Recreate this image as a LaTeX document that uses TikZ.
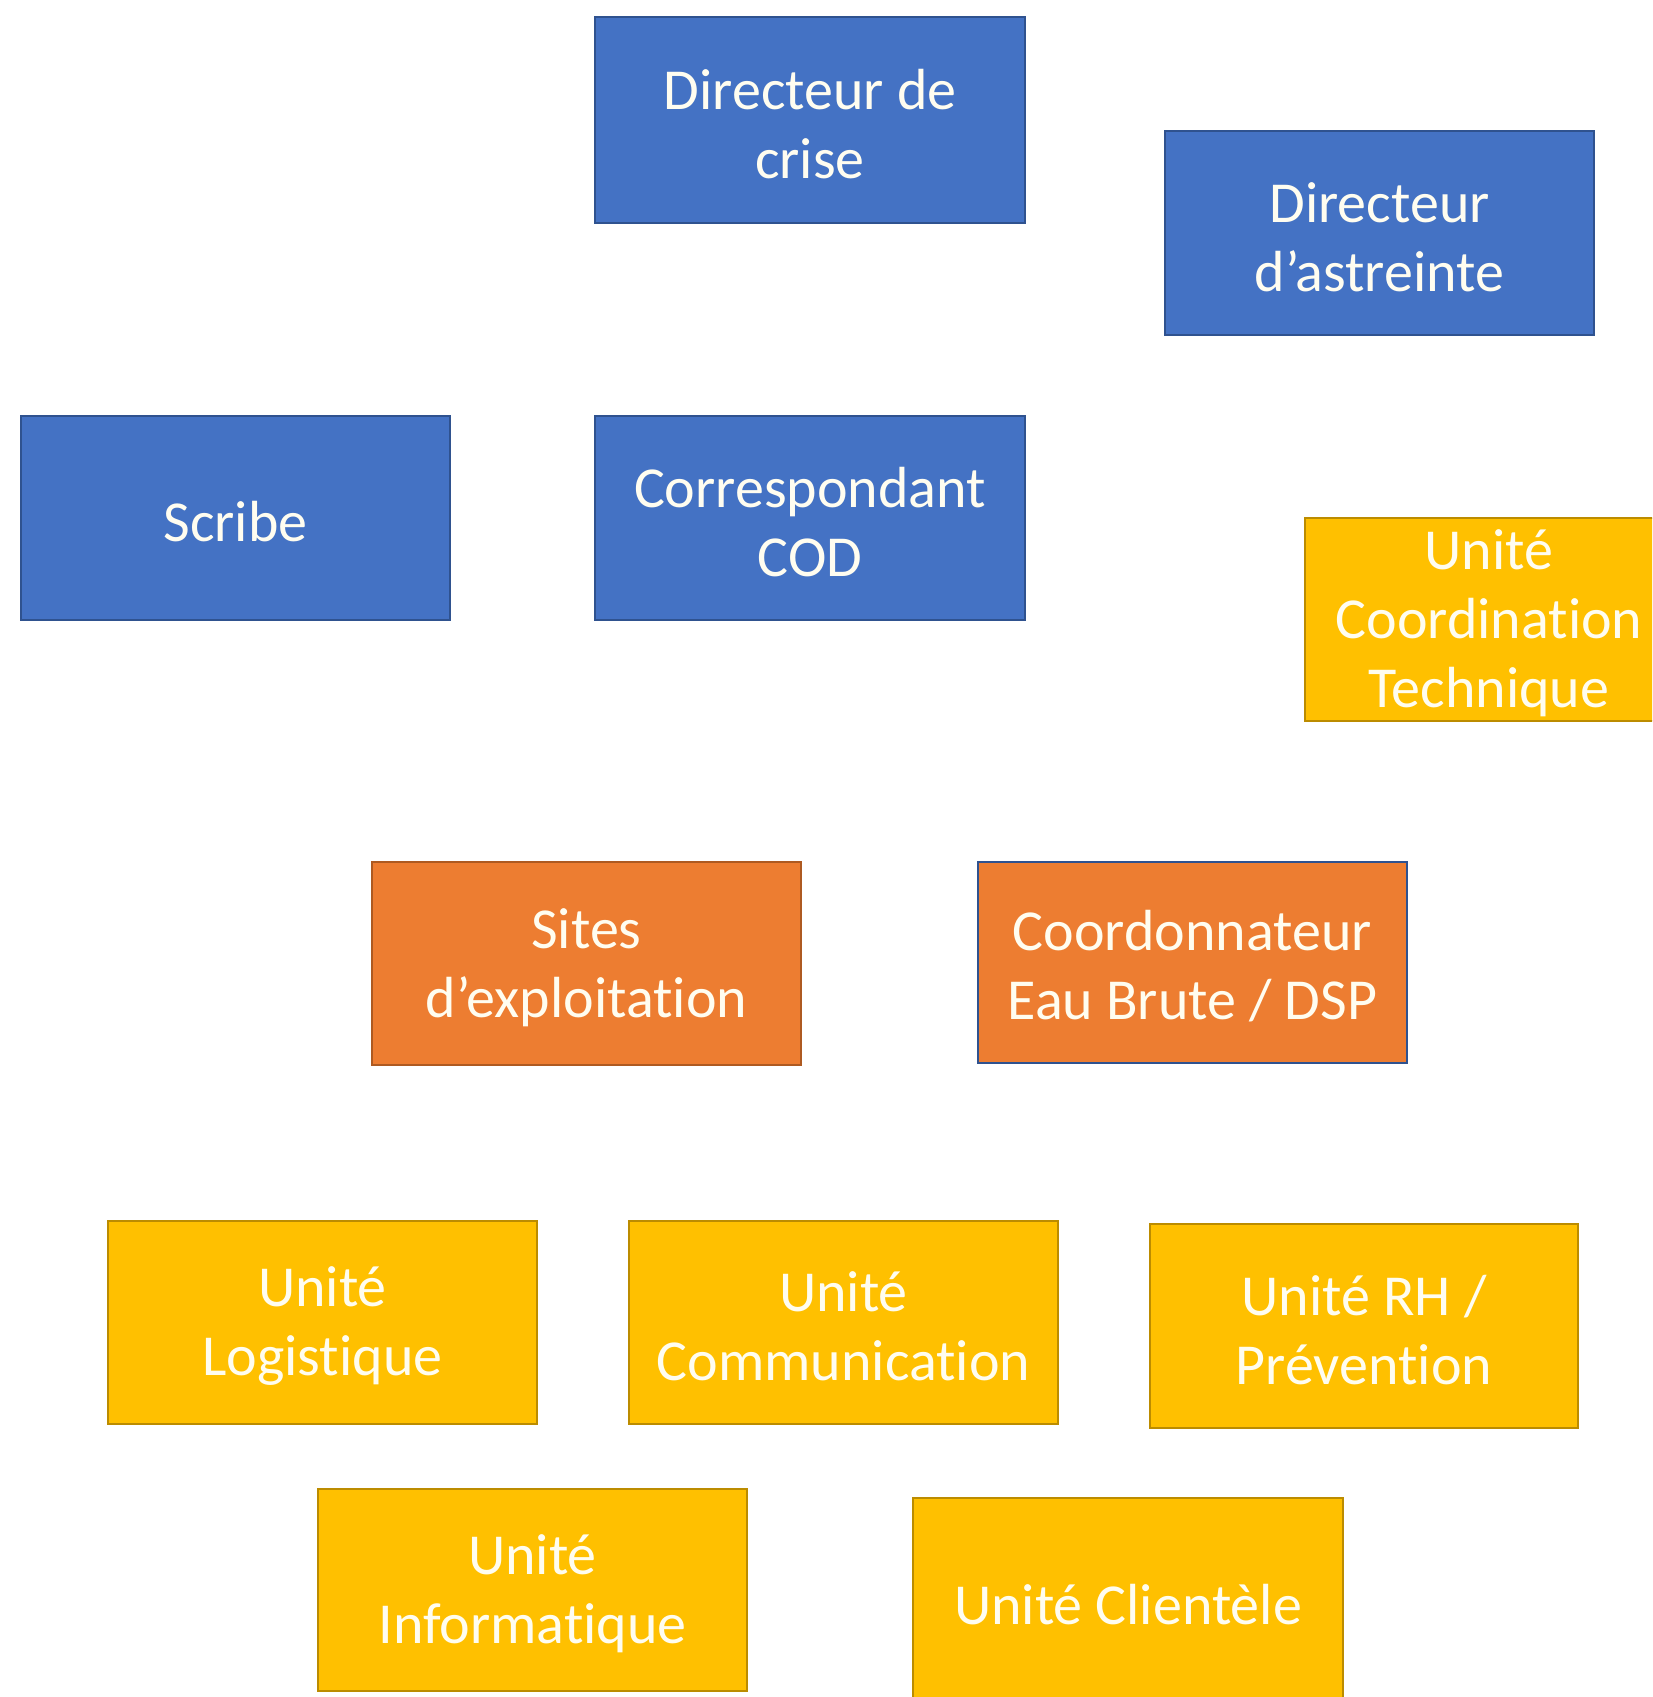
\documentclass[tikz,border=0pt]{standalone}
\usepackage{fontspec}
\setmainfont{Carlito}[Ligatures=NoCommon]
\definecolor{bfill}{HTML}{4472C4}
\definecolor{bline}{HTML}{2F528F}
\definecolor{ofill}{HTML}{ED7D31}
\definecolor{oline}{HTML}{AE5A21}
\definecolor{yfill}{HTML}{FFC000}
\definecolor{yline}{HTML}{BC8C00}
\definecolor{txt}{HTML}{FFFDF0}
\begin{document}
\begin{tikzpicture}[x=1pt,y=-1pt,
  box/.style={rectangle, line width=2.5pt, inner sep=0pt},
  lbl/.style={inner sep=0pt, align=center, text=txt, font=\fontsize{58}{69}\selectfont},
  bluebox/.style={box, fill=bfill, draw=bline},
  orangebox/.style={box, fill=ofill, draw=oline},
  coordbox/.style={box, fill=ofill, draw=bline},
  yellowbox/.style={box, fill=yfill, draw=yline}]
\useasboundingbox (0,0) rectangle (1652,1697);
\clip (0,0) rectangle (1652,1697);
\fill[white] (0,0) rectangle (1652,1697);
\newcommand{\mybox}[7]{% style, name, x1, y1, x2, y2, text
  \node[#1, minimum width={#5-#3}, minimum height={#6-#4}] (#2) at ({(#3+#5)/2},{(#4+#6)/2}) {};
  \node[lbl] (#2-t) at ([yshift=-4pt]#2.center) {#7};}
\mybox{bluebox}{dcrise}{595}{17}{1025}{223}{Directeur de\\crise}
\mybox{bluebox}{dastr}{1165}{131}{1594}{335}{Directeur\\d’astreinte}
\mybox{bluebox}{scribe}{21}{416}{450}{620}{Scribe}
\mybox{bluebox}{cod}{595}{416}{1025}{620}{Correspondant\\COD}
\mybox{yellowbox}{uct}{1305}{518}{1673}{721}{Unité\\Coordination\\Technique}
\mybox{orangebox}{sites}{372}{862}{801}{1065}{Sites\\d’exploitation}
\mybox{coordbox}{coord}{978}{862}{1407}{1063}{Coordonnateur\\Eau Brute / DSP}
\mybox{yellowbox}{ulog}{108}{1221}{537}{1424}{Unité\\Logistique}
\mybox{yellowbox}{ucom}{629}{1221}{1058}{1424}{Unité\\Communication}
\mybox{yellowbox}{urh}{1150}{1224}{1578}{1428}{Unité RH /\\Prévention}
\mybox{yellowbox}{uinf}{318}{1489}{747}{1691}{Unité\\Informatique}
\mybox{yellowbox}{ucli}{913}{1498}{1343}{1704}{Unité Clientèle}
\end{tikzpicture}
\end{document}
